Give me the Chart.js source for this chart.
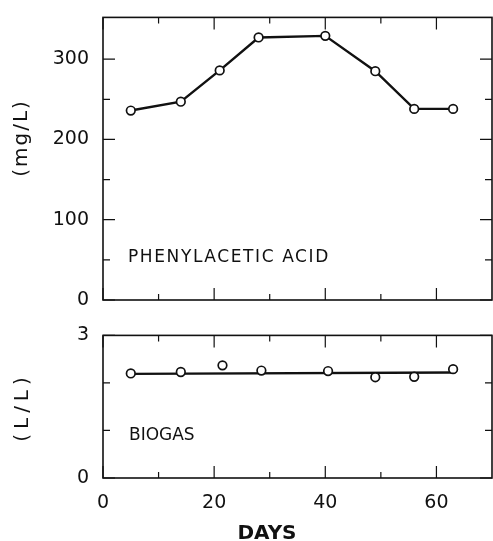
<!DOCTYPE html>
<html>
<head>
<meta charset="utf-8">
<script src="https://cdn.jsdelivr.net/npm/chart.js@4.4.1/dist/chart.umd.min.js"></script>
<style>
html, body { margin: 0; padding: 0; background: #fff; }
#wrap { position: relative; width: 493px; height: 541px; }
#acidBox { position: absolute; left: 0; top: 0; width: 493px; height: 318px; }
#gasBox { position: absolute; left: 0; top: 318px; width: 493px; height: 223px; }
</style>
</head>
<body>
<div id="wrap">
  <div id="acidBox"><canvas id="acidChart"></canvas></div>
  <div id="gasBox"><canvas id="gasChart"></canvas></div>
</div>
<script>
// values
const acidDays = [5, 14, 21, 28, 40, 49, 56, 63];
const acidValues = [236, 247, 286, 327, 329, 285, 238, 238];

const gasDays = [5, 14, 21.5, 28.5, 40.5, 49, 56, 63];
const gasValues = [2.2, 2.23, 2.37, 2.26, 2.25, 2.12, 2.13, 2.29];
const gasFitDays = [5, 63];
const gasFitValues = [2.19, 2.22];

const dayTicks = [0, 20, 40, 60];
const dayMinorTicks = [10, 30, 50];
const acidTicks = [0, 100, 200, 300];
const acidMinorTicks = [50, 150, 250];
const gasTicks = [0, 3];
const gasMinorTicks = [1, 2];

const INK = "#111";
const FONT = "'DejaVu Sans', sans-serif";

function xy(xs, ys) {
    return xs.map((x, i) => ({ x: x, y: ys[i] }));
}

// box round the plot, with short ticks pointing inwards on all four sides
const framePlugin = {
    id: "frame",
    beforeDatasetsDraw(chart, args, opts) {
        const ctx = chart.ctx;
        const a = chart.chartArea;
        const sx = chart.scales.x;
        const sy = chart.scales.y;
        ctx.save();
        ctx.strokeStyle = INK;
        ctx.lineWidth = 1.6;
        ctx.strokeRect(a.left, a.top, a.right - a.left, a.bottom - a.top);
        ctx.lineWidth = 1.2;
        const mark = (vals, len, horiz) => {
            vals.forEach(v => {
                ctx.beginPath();
                if (horiz) {
                    const p = sy.getPixelForValue(v);
                    ctx.moveTo(a.left, p); ctx.lineTo(a.left + len, p);
                    ctx.moveTo(a.right, p); ctx.lineTo(a.right - len, p);
                } else {
                    const p = sx.getPixelForValue(v);
                    ctx.moveTo(p, a.top); ctx.lineTo(p, a.top + len);
                    ctx.moveTo(p, a.bottom); ctx.lineTo(p, a.bottom - len);
                }
                ctx.stroke();
            });
        };
        mark(opts.xMajor, 12, false);
        mark(opts.xMinor, 6, false);
        mark(opts.yMajor, 12, true);
        mark(opts.yMinor, 7, true);
        ctx.restore();
    },
    afterDraw(chart, args, opts) {
        const ctx = chart.ctx;
        ctx.save();
        ctx.fillStyle = INK;
        (opts.texts || []).forEach(t => {
            ctx.save();
            ctx.font = t.font;
            ctx.letterSpacing = t.spacing || "0px";
            ctx.textAlign = t.align || "left";
            ctx.textBaseline = t.baseline || "alphabetic";
            ctx.translate(t.x, t.y);
            if (t.rotate) ctx.rotate(-Math.PI / 2);
            ctx.fillText(t.text, 0, 0);
            ctx.restore();
        });
        ctx.restore();
    }
};

function yAxis(min, max, ticks) {
    return {
        min: min,
        max: max,
        afterBuildTicks: s => { s.ticks = ticks.map(v => ({ value: v })); },
        afterFit: s => { s.width = 103; },
        grid: { display: false },
        border: { display: false },
        ticks: {
            color: INK,
            padding: 6,
            font: { family: FONT, size: 19 },
            callback: v => String(v)
        }
    };
}

const pointStyle = {
    borderColor: INK,
    backgroundColor: "#fff",
    pointRadius: 4.3,
    pointBorderWidth: 1.7,
    pointBackgroundColor: "#fff",
    pointBorderColor: INK
};

new Chart(
    document.getElementById("acidChart"),
    {
        type: "scatter",
        data: {
            datasets: [
                Object.assign({
                    label: "Phenylacetic acid",
                    data: xy(acidDays, acidValues),
                    showLine: true,
                    borderWidth: 2.4
                }, pointStyle)
            ]
        },
        options: {
            responsive: true,
            maintainAspectRatio: false,
            animation: false,
            layout: { autoPadding: false, padding: { top: 15, right: 1, bottom: 18, left: 0 } },
            scales: {
                x: { display: false, min: 0, max: 70 },
                y: yAxis(0, 352, acidTicks)
            },
            plugins: {
                legend: { display: false },
                tooltip: { enabled: false },
                frame: {
                    xMajor: dayTicks, xMinor: dayMinorTicks,
                    yMajor: acidTicks, yMinor: acidMinorTicks,
                    texts: [
                        { text: "PHENYLACETIC ACID", x: 128, y: 262, font: "17px " + FONT, spacing: "1.6px" },
                        { text: "(mg/L)", x: 22, y: 138, font: "20px " + FONT, spacing: "2px",
                          align: "center", baseline: "middle", rotate: true }
                    ]
                }
            }
        },
        plugins: [framePlugin]
    }
);

new Chart(
    document.getElementById("gasChart"),
    {
        type: "scatter",
        data: {
            datasets: [
                Object.assign({
                    label: "Biogas",
                    data: xy(gasDays, gasValues),
                    showLine: false,
                    order: 0
                }, pointStyle),
                {
                    label: "Biogas mean",
                    data: xy(gasFitDays, gasFitValues),
                    showLine: true,
                    borderColor: INK,
                    borderWidth: 2.4,
                    pointRadius: 0,
                    order: 1
                }
            ]
        },
        options: {
            responsive: true,
            maintainAspectRatio: false,
            animation: false,
            layout: { autoPadding: false, padding: { top: 17, right: 1, bottom: 33, left: 0 } },
            scales: {
                x: {
                    min: 0,
                    max: 70,
                    afterBuildTicks: s => { s.ticks = dayTicks.map(v => ({ value: v })); },
                    afterFit: s => { s.height = 30; },
                    grid: { display: false },
                    border: { display: false },
                    ticks: {
                        color: INK,
                        padding: 6,
                        maxRotation: 0,
                        font: { family: FONT, size: 19 },
                        callback: v => String(v)
                    }
                },
                y: yAxis(0, 3, gasTicks)
            },
            plugins: {
                legend: { display: false },
                tooltip: { enabled: false },
                frame: {
                    xMajor: dayTicks, xMinor: dayMinorTicks,
                    yMajor: gasTicks, yMinor: gasMinorTicks,
                    texts: [
                        { text: "BIOGAS", x: 129, y: 122, font: "17px " + FONT },
                        { text: "(L/L)", x: 23, y: 89, font: "20px " + FONT, spacing: "5px",
                          align: "center", baseline: "middle", rotate: true },
                        { text: "DAYS", x: 267, y: 221, font: "bold 20px " + FONT, align: "center" }
                    ]
                }
            }
        },
        plugins: [framePlugin]
    }
);
</script>
</body>
</html>
